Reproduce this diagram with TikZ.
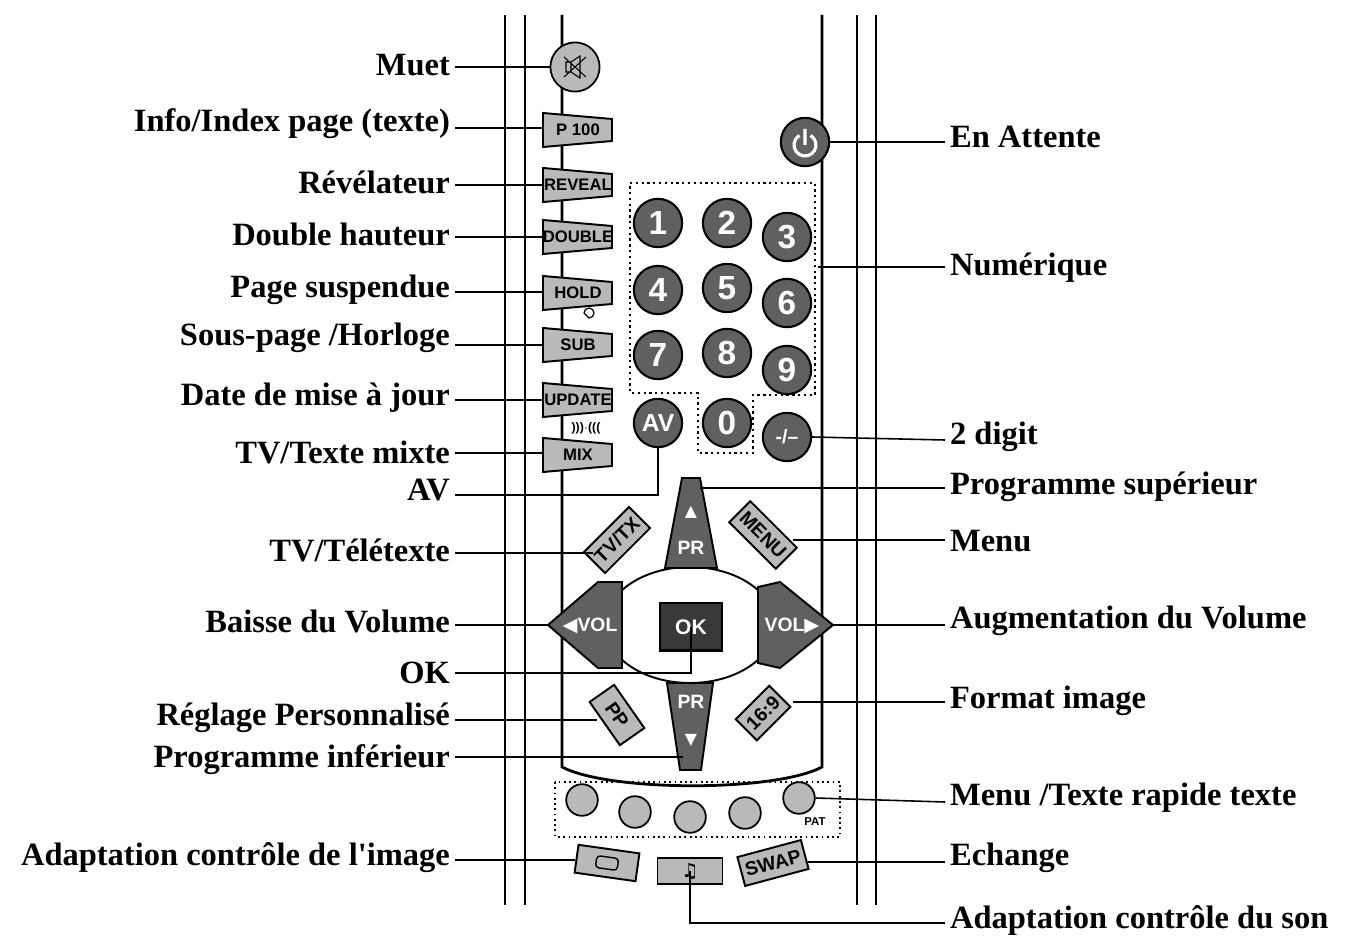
\documentclass[tikz,border=0pt]{standalone}
\usepackage{fontspec}
\setmainfont{Liberation Serif}
\setsansfont{Liberation Sans}
\newfontfamily\symfont{DejaVu Sans}
\usetikzlibrary{calc}

\tikzset{
  lbl/.style={font=\fontsize{18.5}{20}\selectfont\bfseries, inner sep=1pt},
  lbll/.style={lbl, anchor=east},
  lblr/.style={lbl, anchor=west},
  lead/.style={line width=0.9pt},
  tab/.style={fill=gray!55, draw=black, line width=1.1pt},
  dark/.style={circle, fill=gray!75!black, draw=black, line width=1.2pt, minimum size=27.5pt, inner sep=0pt,
    text=white, font=\sffamily\bfseries\fontsize{19}{19}\selectfont},
  light/.style={circle, fill=gray!55, draw=black, line width=1pt, inner sep=0pt},
  key/.style={fill=gray!55, draw=black, line width=1.1pt, inner sep=2.5pt, minimum height=17pt,
    font=\sffamily\bfseries\fontsize{11}{11}\selectfont},
  dots/.style={dotted, line width=1.3pt}
}
\newcommand\tabbtn[3]{%
  \filldraw[tab] (543,#2-17) -- (612,#2-11) -- (612,#2+11) -- (543,#2+17) -- cycle;
  \node[font=\sffamily\bfseries\fontsize{9.5}{9.5}\selectfont, inner sep=0pt] (#1) at (578,#2) {#3};
  \coordinate (#1-w) at (543,#2);}

\begin{document}
\begin{tikzpicture}[x=0.02cm, y=-0.02cm]
    \useasboundingbox (0,0) rectangle (1345,942);

    % body lines
    \foreach \xx in {505,525,857,876}
      \draw[line width=1.6pt] (\xx,15) -- (\xx,905);
    \draw[line width=1.6pt] (562,15) -- (562,767) .. controls (610,792) and (775,792) .. (822,767) -- (822,15);

    % mute and standby
    \node[light, minimum size=28pt] (mute) at (575,67) {};
    \draw[line width=0.6pt] (566,62) rectangle (571,72) (571,62) -- (580,56) -- (580,78) -- (571,72)
      (564,57) -- (586,77) (586,57) -- (564,77);
    \node[dark] (stby) at (805,142) {};
    \draw[white, line width=1.8pt] (805,145) ++(300:11) arc (300:600:11) (805,129) -- (805,145);

    % teletext tabs
    \tabbtn{p100}{130}{P 100}
    \tabbtn{reveal}{185}{REVEAL}
    \tabbtn{double}{237}{DOUBLE}
    \tabbtn{hold}{293}{HOLD}
    \tabbtn{sub}{345}{SUB}
    \tabbtn{update}{400}{UPDATE}
    \tabbtn{mix}{455}{MIX}
    \draw[line width=0.7pt] (584,313) arc (180:450:5) -- (584,313);
    \node[font=\sffamily\bfseries\fontsize{7}{7}\selectfont, inner sep=0pt] at (586,428) {)))$\cdot$(((};

    % numeric pad
    \draw[dots] (630,183) -- (815,183) -- (815,395) -- (753,395) -- (753,453) -- (698,453) -- (698,393) -- (630,393) -- cycle;
    \coordinate (pad) at (818,267);
    \foreach \n/\px/\py in {1/658/223, 2/727/223, 3/787/237, 4/658/290, 5/727/288, 6/787/303,
                           7/658/355, 8/727/353, 9/787/370, 0/727/423}
      \node[dark] (n\n) at (\px,\py) {\n};
    \node[dark, font=\sffamily\bfseries\fontsize{14}{14}\selectfont] (av) at (658,423) {AV};
    \node[dark, font=\sffamily\bfseries\fontsize{11}{11}\selectfont] (dash) at (787,437) {-/--};

    % navigation cluster
    \draw[line width=1.1pt, fill=white] (690,625) ellipse (85 and 58);
    \filldraw[fill=gray!75!black, draw=black, line width=1.1pt] (682,478) -- (700,478) -- (717,568) -- (665,568) -- cycle;
    \node[text=white, font=\sffamily\bfseries\fontsize{11}{11}\selectfont] (prup) at (691,548) {PR};
    \node[text=white, font=\symfont\fontsize{9}{9}\selectfont] at (691,512) {▲};
    \filldraw[fill=gray!75!black, draw=black, line width=1.1pt] (667,683) -- (713,683) -- (701,770) -- (680,770) -- cycle;
    \node[text=white, font=\sffamily\bfseries\fontsize{11}{11}\selectfont] (prdn) at (691,702) {PR};
    \node[text=white, font=\symfont\fontsize{9}{9}\selectfont] at (691,740) {▼};
    \filldraw[fill=gray!75!black, draw=black, line width=1.1pt] (548,625) -- (598,582) -- (622,582) -- (622,668) -- (598,668) -- cycle;
    \node[text=white, font=\sffamily\bfseries\fontsize{11}{11}\selectfont] (volm) at (590,626) {\symfont◀\sffamily VOL};
    \filldraw[fill=gray!75!black, draw=black, line width=1.1pt] (833,625) -- (780,582) -- (758,587) -- (758,663) -- (780,668) -- cycle;
    \node[text=white, font=\sffamily\bfseries\fontsize{11}{11}\selectfont] (volp) at (792,626) {VOL\symfont▶};
    \node[fill=gray!45!black, draw=black, line width=1.2pt, minimum width=35pt, minimum height=27pt,
          text=white, font=\sffamily\bfseries\fontsize{12}{12}\selectfont, anchor=north, inner sep=3pt] (ok) at (691,602) {OK};
    \node[key, rotate=45] (tvtx) at (617,540) {TV/TX};
    \node[key, rotate=-45] (menu) at (763,535) {MENU};
    \node[key, rotate=-55, minimum width=30pt] (pp) at (617,715) {PP};
    \node[key, rotate=45] (wide) at (763,713) {16:9};
    \coordinate (tvtx-l) at (593,553);
    \coordinate (menu-l) at (793,540);
    \coordinate (pp-l) at (597,720);
    \coordinate (wide-l) at (793,702);

    % colour keys
    \draw[dots, line width=1pt] (555,782) rectangle (840,837);
    \foreach \i/\px/\py in {1/582/800, 2/635/812, 3/690/817, 4/745/813, 5/799/798}
      \node[light, minimum size=18pt] (c\i) at (\px,\py) {};
    \node[font=\sffamily\bfseries\fontsize{6.5}{6.5}\selectfont] at (815,822) {PAT};

    % bottom keys
    \node[key, rotate=-8, minimum width=35pt, minimum height=16pt] (pic) at (607,863) {};
    \draw[rounded corners=2pt, line width=0.8pt, rotate around={-8:(607,863)}] (596,857) rectangle (618,869);
    \node[key, minimum width=37pt, minimum height=15pt, font=\symfont\fontsize{11}{11}\selectfont] (snd) at (690,871) {♫};
    \node[key, rotate=15] (swap) at (773,863) {SWAP};
    \coordinate (pic-l) at (575,860);
    \coordinate (swap-l) at (808,862);

    % left labels
    \node[lbll] (lmuet) at (452,65) {Muet};
    \node[lbll] (linfo) at (452,124) {Info/Index page (texte)};
    \node[lbll] (lrev) at (452,182) {Révélateur};
    \node[lbll] (ldbl) at (452,234) {Double hauteur};
    \node[lbll] (lhold) at (452,290) {Page suspendue};
    \node[lbll] (lsub) at (452,338) {Sous-page /Horloge};
    \node[lbll] (lupd) at (452,398) {Date de mise à jour};
    \node[lbll] (lmix) at (452,452) {TV/Texte mixte};
    \node[lbll] (lav) at (452,490) {AV};
    \node[lbll] (ltvtx) at (452,550) {TV/Télétexte};
    \node[lbll] (lvolm) at (452,621) {Baisse du Volume};
    \node[lbll] (lok) at (452,673) {OK};
    \node[lbll] (lpp) at (452,718) {Réglage Personnalisé};
    \node[lbll] (lprdn) at (452,760) {Programme inférieur};
    \node[lbll] (lpic) at (452,858) {Adaptation contrôle de l\textquotesingle image};

    % right labels
    \node[lblr] (rstby) at (948,137) {En Attente};
    \node[lblr] (rpad) at (948,268) {Numérique};
    \node[lblr] (rdash) at (948,437) {2 digit};
    \node[lblr] (rprup) at (948,487) {Programme supérieur};
    \node[lblr] (rmenu) at (948,541) {Menu};
    \node[lblr] (rvolp) at (948,621) {Augmentation du Volume};
    \node[lblr] (rwide) at (948,701) {Format image};
    \node[lblr] (rcol) at (948,798) {Menu /Texte rapide texte};
    \node[lblr] (rswap) at (948,858) {Echange};
    \node[lblr] (rsnd) at (948,920) {Adaptation contrôle du son};

    % leaders
    \draw[lead] (455,67) -- (mute.west);
    \foreach \t/\yy in {p100/128, reveal/185, double/237, hold/292, sub/345, update/400, mix/453}
      \draw[lead] (455,\yy) -- (\t-w |- 0,\yy);
    \draw[lead] (455,495) -| (av.south);
    \draw[lead] (455,553) -- (tvtx-l);
    \draw[lead] (455,625) -- (548,625);
    \draw[lead] (455,673) -| (ok.center);
    \draw[lead] (455,720) -- (pp-l);
    \draw[lead] (455,757) -- (683,757);
    \draw[lead] (455,860) -- (pic-l);
    \draw[lead] (stby.east) -- (945,142);
    \draw[lead] (pad) -- (945,267);
    \draw[lead] (dash.east) -- (945,440);
    \draw[lead] (700,488) -- (945,488);
    \draw[lead] (menu-l) -- (945,540);
    \draw[lead] (833,625) -- (945,625);
    \draw[lead] (wide-l) -- (945,702);
    \draw[lead] (c5.east) -- (945,802);
    \draw[lead] (swap-l) -- (945,862);
    \draw[lead] (snd.center) |- (945,923);
\end{tikzpicture}
\end{document}
